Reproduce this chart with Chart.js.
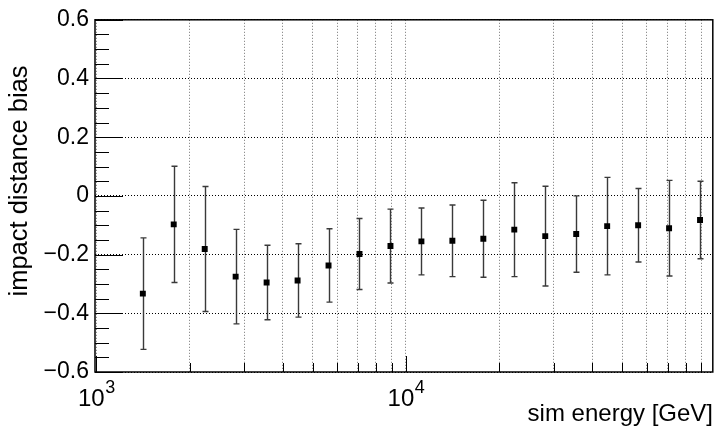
<!DOCTYPE html>
<html>
<head>
<meta charset="utf-8">
<script src="https://cdn.jsdelivr.net/npm/chart.js@4.4.1/dist/chart.umd.min.js"></script>
<style>
  html, body { margin: 0; padding: 0; background: #fff; }
  #wrap { width: 717px; height: 430px; }
</style>
</head>
<body>
<div id="wrap"><canvas id="c" width="717" height="430"></canvas></div>
<script>
// Bin centres of the simulated energy [GeV] and the measured impact distance bias
const energies = [1413, 1778, 2239, 2818, 3548, 4467, 5623, 7079, 8913, 11220,
                  14125, 17783, 22387, 28184, 35481, 44668, 56234, 70795, 89125];
const bias     = [-0.333, -0.097, -0.181, -0.275, -0.295, -0.288, -0.237, -0.198, -0.171, -0.155,
                  -0.153, -0.146, -0.115, -0.137, -0.130, -0.103, -0.100, -0.110, -0.082];
const biasErr  = [0.190, 0.198, 0.213, 0.161, 0.127, 0.125, 0.125, 0.121, 0.126, 0.114,
                  0.122, 0.131, 0.160, 0.170, 0.130, 0.166, 0.125, 0.163, 0.132];

// Axis labels
const yTickValues = [-0.6, -0.4, -0.2, 0, 0.2, 0.4, 0.6];
const yTickLabels = ['\u22120.6', '\u22120.4', '\u22120.2', '0', '0.2', '0.4', '0.6'];
const xDecades = [1000, 10000];
const xDecadeBase = ['10', '10'];
const xDecadeExp = ['3', '4'];
const xTitle = 'sim energy [GeV]';
const yTitle = 'impact distance bias';

const FONT = "'Liberation Sans', Arial, Helvetica, sans-serif";

// Log-axis grid positions: 1..9 times each decade
function logGridValues(min, max) {
  const out = [];
  for (let d = 1000; d <= max; d *= 10) {
    for (let m = 1; m <= 9; m++) {
      const v = m * d;
      if (v >= min && v <= max) out.push({ value: v });
    }
  }
  return out;
}

const points = energies.map((e, i) => ({ x: e, y: bias[i] }));

// ROOT-style frame, inward ticks, error bars and axis titles
const frameDecor = {
  id: 'frameDecor',
  beforeDatasetsDraw(chart) {
    const { ctx, scales: { x, y } } = chart;
    ctx.save();
    ctx.strokeStyle = '#3a3a3a';
    ctx.lineWidth = 1.4;
    const cap = 3;
    energies.forEach((e, i) => {
      const px = Math.round(x.getPixelForValue(e)) + 0.5;
      const yHi = y.getPixelForValue(bias[i] + biasErr[i]);
      const yLo = y.getPixelForValue(bias[i] - biasErr[i]);
      ctx.beginPath();
      ctx.moveTo(px, yHi);
      ctx.lineTo(px, yLo);
      ctx.moveTo(px - cap, yHi);
      ctx.lineTo(px + cap, yHi);
      ctx.moveTo(px - cap, yLo);
      ctx.lineTo(px + cap, yLo);
      ctx.stroke();
    });
    ctx.restore();
  },
  afterDraw(chart) {
    const { ctx, chartArea: a, scales: { x, y } } = chart;
    ctx.save();
    // y ticks: majors every 0.2, minors every 0.05
    ctx.strokeStyle = '#000';
    ctx.lineWidth = 1;
    for (let k = -12; k <= 12; k++) {
      const v = k * 0.05;
      const py = Math.round(y.getPixelForValue(v)) + 0.5;
      const len = (k % 4 === 0) ? 28 : 14;
      ctx.beginPath();
      ctx.moveTo(a.left, py);
      ctx.lineTo(a.left + len, py);
      ctx.stroke();
    }
    // x ticks at each grid value
    x.ticks.forEach(t => {
      const px = Math.round(x.getPixelForValue(t.value)) + 0.5;
      const len = xDecades.includes(t.value) ? 16 : 9;
      ctx.beginPath();
      ctx.moveTo(px, a.bottom);
      ctx.lineTo(px, a.bottom - len);
      ctx.stroke();
    });
    // frame
    ctx.lineWidth = 1.5;
    ctx.strokeStyle = '#000';
    ctx.strokeRect(a.left, a.top, a.right - a.left, a.bottom - a.top);

    // decade labels with superscript exponent
    ctx.fillStyle = '#000';
    ctx.textBaseline = 'alphabetic';
    xDecades.forEach((v, i) => {
      const px = x.getPixelForValue(v);
      ctx.font = '24px ' + FONT;
      const wb = ctx.measureText(xDecadeBase[i]).width;
      ctx.font = '18px ' + FONT;
      const we = ctx.measureText(xDecadeExp[i]).width;
      const left = px - (wb + we) / 2;
      ctx.font = '24px ' + FONT;
      ctx.textAlign = 'left';
      ctx.fillText(xDecadeBase[i], left, 406);
      ctx.font = '18px ' + FONT;
      ctx.fillText(xDecadeExp[i], left + wb + 0.5, 393);
    });

    // axis titles
    ctx.font = '24px ' + FONT;
    ctx.textAlign = 'right';
    ctx.fillText(xTitle, 713, 421);

    ctx.font = '25.5px ' + FONT;
    ctx.translate(27, 181);
    ctx.rotate(-Math.PI / 2);
    ctx.textAlign = 'center';
    ctx.fillText(yTitle, 0, 0);
    ctx.restore();
  }
};

new Chart(document.getElementById('c'), {
  type: 'scatter',
  data: {
    datasets: [{
      data: points,
      pointStyle: 'rect',
      pointRadius: 4.2,
      pointHoverRadius: 4.2,
      backgroundColor: '#000',
      borderColor: '#000',
      borderWidth: 0
    }]
  },
  options: {
    responsive: false,
    animation: false,
    events: [],
    layout: { padding: { left: 0, right: 3, top: 13, bottom: 0 } },
    plugins: { legend: { display: false }, tooltip: { enabled: false } },
    scales: {
      x: {
        type: 'logarithmic',
        min: 990,
        max: 98000,
        afterFit(s) { s.height = 58; },
        afterBuildTicks(s) { s.ticks = logGridValues(s.min, s.max); },
        ticks: { display: false },
        grid: { color: 'rgba(0,0,0,0.55)', lineWidth: 1, drawTicks: false },
        border: { display: false, dash: [1, 2] }
      },
      y: {
        min: -0.6,
        max: 0.6,
        afterFit(s) { s.width = 95; },
        afterBuildTicks(s) { s.ticks = yTickValues.map(v => ({ value: v })); },
        ticks: {
          padding: 6,
          color: '#000',
          font: { family: FONT, size: 23 },
          callback(value) {
            const i = yTickValues.findIndex(v => Math.abs(v - value) < 1e-6);
            return i >= 0 ? yTickLabels[i] : '';
          }
        },
        grid: { color: '#000', lineWidth: 1, drawTicks: false },
        border: { display: false, dash: [1, 2] }
      }
    }
  },
  plugins: [frameDecor]
});
</script>
</body>
</html>
